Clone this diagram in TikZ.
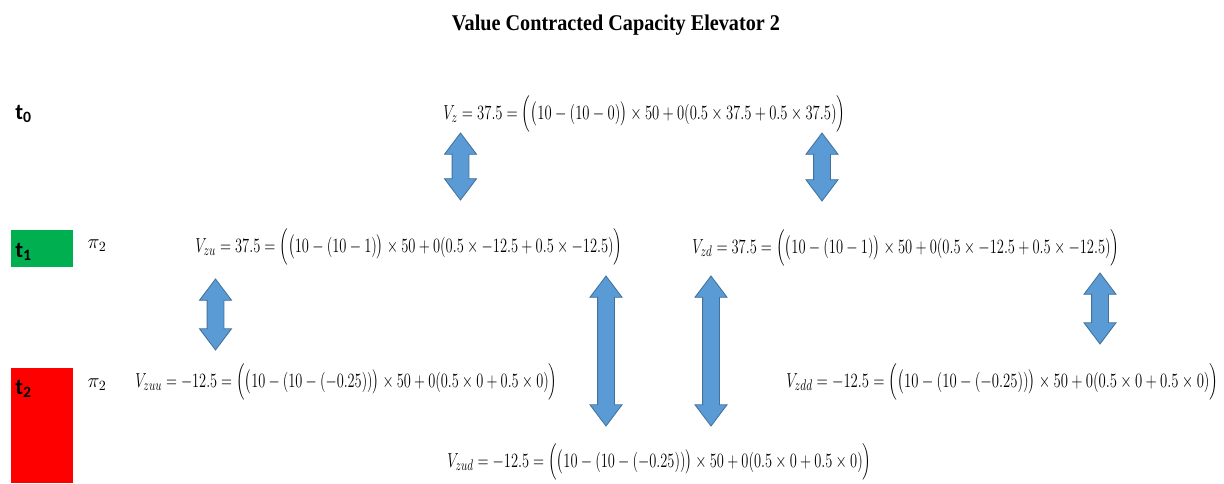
\documentclass[tikz,border=0pt]{standalone}
\usepackage{fontspec}
\usepackage{amsmath}
\usepackage{graphicx}
\usetikzlibrary{shapes.arrows, positioning}
\newfontfamily\titlefont{Liberation Serif}
\newfontfamily\labelfont{Carlito}
\definecolor{arrowblue}{HTML}{5B9BD5}
\definecolor{arrowedge}{HTML}{41719C}
\definecolor{tgreen}{HTML}{00B050}
\definecolor{tred}{HTML}{FF0000}
\newcommand{\eqfit}[2]{\resizebox{#1}{\height}{$#2$}}
\tikzset{
  eqn/.style={anchor=west, inner sep=0pt, font=\fontsize{15}{17}\selectfont},
  tlabel/.style={anchor=base west, inner sep=0pt, font=\labelfont\bfseries\fontsize{16}{18}\selectfont},
  pilabel/.style={inner sep=0pt, font=\fontsize{14}{16}\selectfont},
  tband/.style={rectangle, draw=none, inner sep=0pt, anchor=north west, minimum width=1.55cm},
  updown/.style={double arrow, rotate=90, draw=arrowedge, fill=arrowblue, line width=0.6pt,
    inner xsep=0pt, inner ysep=0.2cm, double arrow head extend=0.19cm, double arrow tip angle=74},
}

\begin{document}
\begin{tikzpicture}[x=0.025cm, y=-0.025cm]
\useasboundingbox (0,0) rectangle (1224,483);
\node[inner sep=0pt, font=\titlefont\bfseries\fontsize{16}{18}\selectfont] (title) at (616,25)
  {\resizebox{8.2cm}{\height}{Value Contracted Capacity Elevator 2}};

\node[tband, fill=tgreen, minimum height=0.925cm] (band1) at (11,230) {};
\node[tband, fill=tred, minimum height=2.875cm] (band2) at (11,368) {};
\node[tlabel] (t0) at (15,119) {t\textsubscript{0}};
\node[tlabel] (t1) at (15,257) {t\textsubscript{1}};
\node[tlabel] (t2) at (15,394) {t\textsubscript{2}};
\node[pilabel] (pi1) at (97,246) {$\pi_2$};
\node[pilabel] (pi2) at (97,385) {$\pi_2$};

\node[eqn] (vz) at (443,114) {\eqfit{10.05cm}{V_z = 37.5 = \Bigl(\bigl(10 - (10 - 0)\bigr) \times 50 + 0(0.5 \times 37.5 + 0.5 \times 37.5)\Bigr)}};
\node[eqn] (vzu) at (195,247) {\eqfit{10.675cm}{V_{zu} = 37.5 = \Bigl(\bigl(10 - (10 - 1)\bigr) \times 50 + 0(0.5 \times -12.5 + 0.5 \times -12.5)\Bigr)}};
\node[eqn] (vzd) at (692,248) {\eqfit{10.675cm}{V_{zd} = 37.5 = \Bigl(\bigl(10 - (10 - 1)\bigr) \times 50 + 0(0.5 \times -12.5 + 0.5 \times -12.5)\Bigr)}};
\node[eqn] (vzuu) at (135,382) {\eqfit{10.55cm}{V_{zuu} = -12.5 = \Bigl(\bigl(10 - (10 - (-0.25))\bigr) \times 50 + 0(0.5 \times 0 + 0.5 \times 0)\Bigr)}};
\node[eqn] (vzdd) at (786,382) {\eqfit{10.8cm}{V_{zdd} = -12.5 = \Bigl(\bigl(10 - (10 - (-0.25))\bigr) \times 50 + 0(0.5 \times 0 + 0.5 \times 0)\Bigr)}};
\node[eqn] (vzud) at (447,462) {\eqfit{10.6cm}{V_{zud} = -12.5 = \Bigl(\bigl(10 - (10 - (-0.25))\bigr) \times 50 + 0(0.5 \times 0 + 0.5 \times 0)\Bigr)}};

\node[updown, minimum height=1.675cm] (a1) at (460.5,166.5) {};
\node[updown, minimum height=1.7cm] (a2) at (822,167) {};
\node[updown, minimum height=1.775cm] (a3) at (215.5,314.5) {};
\node[updown, minimum height=3.75cm] (a4) at (606,351) {};
\node[updown, minimum height=3.75cm] (a5) at (711,351) {};
\node[updown, minimum height=1.775cm] (a6) at (1100,308.5) {};
\end{tikzpicture}
\end{document}
